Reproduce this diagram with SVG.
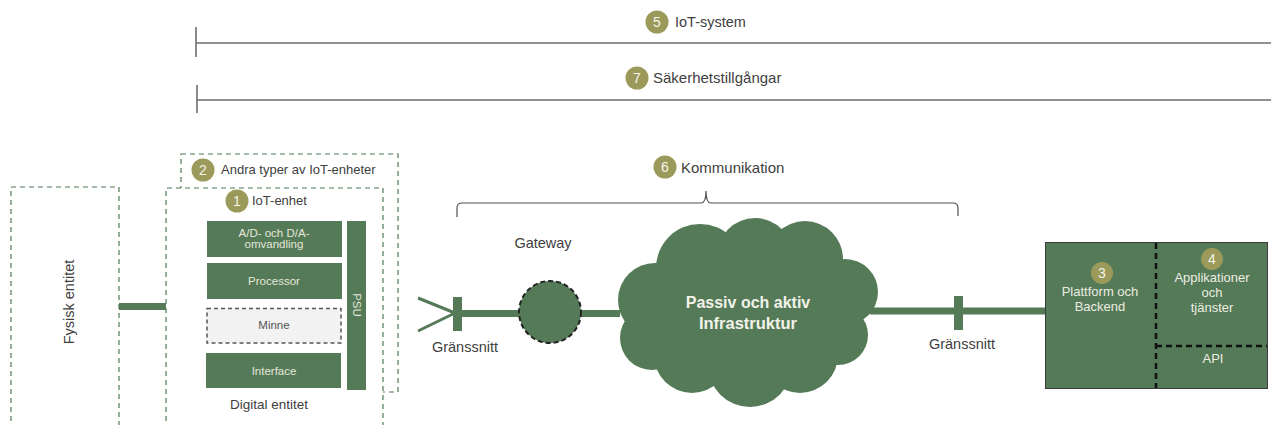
<svg xmlns="http://www.w3.org/2000/svg" width="1271" height="425" viewBox="0 0 1271 425">
<style>
text{font-family:"Liberation Sans",Arial,sans-serif;fill:#404040}
.lbl{font-size:14.5px}
.small{font-size:11.5px;fill:#e6e6dc;text-anchor:middle}
.wh{fill:#ecece2;font-size:13px;text-anchor:middle}
.badge{fill:#9b9a5b}
.bn{fill:#f4f4ea;font-size:14px;text-anchor:middle}
.g{fill:#547a57}
.dbox{fill:#fff;stroke:#4f7a55;stroke-width:1.2;stroke-dasharray:5 4}
.rule{fill:none;stroke:#6f6f6f;stroke-width:1.6}
.brk{fill:none;stroke:#505050;stroke-width:1.2}
</style>

<g id="iot-system">
  <path class="rule" d="M196 27V57M196 43H1271"/>
  <circle class="badge" cx="657" cy="22" r="11.5"/>
  <text class="bn" x="657" y="27">5</text>
  <text class="lbl" x="675" y="27">IoT-system</text>
</g>
<g id="sakerhet">
  <path class="rule" d="M197 85V113M197 100H1271"/>
  <circle class="badge" cx="637" cy="78" r="11.5"/>
  <text class="bn" x="637" y="83">7</text>
  <text class="lbl" x="653" y="83" style="font-size:15px">Säkerhetstillgångar</text>
</g>

<g id="kommunikation">
  <path class="brk" d="M457 217V208Q457 203 462 203H701Q706 203 706 191Q706 203 711 203H953Q958 203 958 208V216"/>
  <circle class="badge" cx="665" cy="167" r="11.5"/>
  <text class="bn" x="665" y="172">6</text>
  <text class="lbl" x="681" y="173" style="font-size:15px">Kommunikation</text>
</g>

<g id="connectors">
  <rect class="g" x="119" y="303" width="47" height="7"/>
  <path d="M418 298L455 313M418 331L455 313" stroke="#547a57" stroke-width="3" fill="none"/>
  <rect class="g" x="460" y="310" width="160" height="7"/>
  <rect class="g" x="870" y="307.5" width="177" height="7"/>
</g>

<g id="fysisk-entitet">
  <path class="dbox" d="M11 430V187H119V430"/>
  <text class="lbl" transform="translate(74 302) rotate(-90)" text-anchor="middle">Fysisk entitet</text>
</g>

<g id="andra-typer">
  <rect class="dbox" x="181" y="154" width="217" height="238"/>
  <circle class="badge" cx="203" cy="170" r="11.5"/>
  <text class="bn" x="203" y="175">2</text>
  <text x="221" y="174" style="font-size:13px">Andra typer av IoT-enheter</text>
</g>

<g id="iot-enhet">
  <path class="dbox" d="M166 430V188H383V430"/>
  <circle class="badge" cx="237" cy="201" r="11.5"/>
  <text class="bn" x="237" y="206">1</text>
  <text x="252" y="205" style="font-size:13px">IoT-enhet</text>
  <g id="ad-da">
    <rect class="g" x="207" y="221" width="135" height="36"/>
    <text class="small" x="274" y="237">A/D- och D/A-</text>
    <text class="small" x="274" y="248">omvandling</text>
  </g>
  <g id="processor">
    <rect class="g" x="207" y="263" width="135" height="36"/>
    <text class="small" x="274" y="285">Processor</text>
  </g>
  <g id="minne">
    <rect x="207" y="308.5" width="134" height="34.5" fill="#f2f2f2" stroke="#555" stroke-width="1.5" stroke-dasharray="4 3"/>
    <text class="small" x="274" y="329" style="fill:#555">Minne</text>
  </g>
  <g id="interface">
    <rect class="g" x="206" y="353" width="135" height="35"/>
    <text class="small" x="274" y="375">Interface</text>
  </g>
  <g id="psu">
    <rect class="g" x="347" y="221" width="19" height="169"/>
    <text class="small" transform="translate(353 305) rotate(90)">PSU</text>
  </g>
  <text x="269" y="409" text-anchor="middle" style="font-size:13.5px">Digital entitet</text>
</g>

<g id="granssnitt-vanster">
  <rect class="g" x="453" y="297" width="9" height="34"/>
  <text class="lbl" x="465" y="352" text-anchor="middle">Gränssnitt</text>
</g>

<g id="gateway">
  <circle cx="550" cy="312" r="31" fill="#547a57" stroke="#222" stroke-width="2" stroke-dasharray="5 3"/>
  <text class="lbl" x="543" y="248" text-anchor="middle">Gateway</text>
</g>

<g id="infrastruktur">
  <g class="g">
    <ellipse cx="750" cy="310" rx="100" ry="62"/>
    <circle cx="655" cy="300" r="37"/>
    <circle cx="700" cy="268" r="44"/>
    <circle cx="755" cy="256" r="38"/>
    <circle cx="805" cy="259" r="38"/>
    <circle cx="845" cy="292" r="33"/>
    <circle cx="838" cy="335" r="30"/>
    <circle cx="800" cy="355" r="38"/>
    <circle cx="750" cy="365" r="42"/>
    <circle cx="692" cy="355" r="38"/>
    <circle cx="652" cy="338" r="32"/>
  </g>
  <text x="748" y="308" text-anchor="middle" style="font-size:16px;font-weight:bold;fill:#f2f2e8">Passiv och aktiv</text>
  <text x="748" y="329" text-anchor="middle" style="font-size:16.5px;font-weight:bold;fill:#f2f2e8">Infrastruktur</text>
</g>

<g id="granssnitt-hoger">
  <rect class="g" x="954" y="296" width="9" height="34"/>
  <text class="lbl" x="962" y="349" text-anchor="middle">Gränssnitt</text>
</g>

<g id="backend">
  <rect x="1045.5" y="242.5" width="222" height="146" fill="#547a57" stroke="#3a3a3a" stroke-width="1"/>
  <path d="M1156 243V388M1156 346H1267" stroke="#111" stroke-width="2.5" stroke-dasharray="6 4" fill="none"/>
  <circle class="badge" cx="1102" cy="273" r="11"/>
  <text class="bn" x="1102" y="278">3</text>
  <text class="wh" x="1100" y="296">Plattform och</text>
  <text class="wh" x="1100" y="311">Backend</text>
  <circle class="badge" cx="1212" cy="259" r="11"/>
  <text class="bn" x="1212" y="264">4</text>
  <text class="wh" x="1212" y="282">Applikationer</text>
  <text class="wh" x="1212" y="297">och</text>
  <text class="wh" x="1212" y="312">tjänster</text>
  <text class="wh" x="1213" y="363">API</text>
</g>
</svg>
